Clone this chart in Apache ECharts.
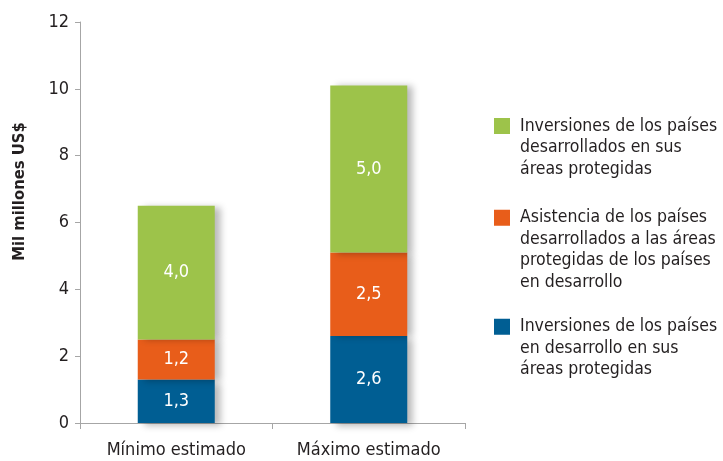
<!DOCTYPE html>
<html>
<head>
<meta charset="utf-8">
<script src="https://cdn.jsdelivr.net/npm/echarts@6/dist/echarts.min.js"></script>
<style>
html,body{margin:0;padding:0;background:#fff;}
#chart{width:723px;height:461px;}
</style>
</head>
<body>
<div id="chart"></div>
<script>
const categories = ['Mínimo estimado', 'Máximo estimado'];
const seriesNames = [
  'Inversiones de los países en desarrollo en sus áreas protegidas',
  'Asistencia de los países desarrollados a las áreas protegidas de los países en desarrollo',
  'Inversiones de los países desarrollados en sus áreas protegidas'
];
const legendLines = [
  ['Inversiones de los países', 'en desarrollo en sus', 'áreas protegidas'],
  ['Asistencia de los países', 'desarrollados a las áreas', 'protegidas de los países', 'en desarrollo'],
  ['Inversiones de los países', 'desarrollados en sus', 'áreas protegidas']
];
const valuesDevelopingOwn = [1.3, 2.6];
const valuesAssistance = [1.2, 2.5];
const valuesDevelopedOwn = [4.0, 5.0];
const yTicks = [0, 2, 4, 6, 8, 10, 12];
const colors = ['#005e93', '#e85d1a', '#9dc34a'];

const FONT = "'DejaVu Sans Condensed', 'Liberation Sans Narrow', sans-serif";
const LH = 21.5;

function fmt(v){ return v.toFixed(1).replace('.', ','); }

const dataSets = [valuesDevelopingOwn, valuesAssistance, valuesDevelopedOwn];
const series = dataSets.map((d, i) => ({
  name: seriesNames[i],
  type: 'bar',
  stack: 'total',
  barWidth: 77,
  data: d,
  itemStyle: {
    color: colors[i],
    shadowColor: 'rgba(0,0,0,0.28)',
    shadowBlur: 7,
    shadowOffsetX: 6,
    shadowOffsetY: i === 0 ? 3 : 1
  },
  label: {
    show: true,
    position: 'inside',
    color: '#ffffff',
    fontFamily: FONT,
    fontSize: 18,
    formatter: p => fmt(p.value)
  }
}));

// legend: one component per item so the swatch sits beside the first line
const legendTops = [316, 207, 115.25];
const legends = seriesNames.map((n, i) => {
  const nLines = legendLines[i].length;
  const H = nLines * LH;
  const sqTop = (LH - 16) / 2;
  const icon = 'path://M0,0L0.01,0Z M0,' + sqTop + 'H16V' + (sqTop + 16) + 'H0Z M21,' + H + 'L20.99,' + H + 'Z';
  return {
    data: [{ name: n, icon: icon }],
    left: 494,
    top: legendTops[i],
    orient: 'vertical',
    padding: 0,
    itemWidth: 21,
    itemHeight: H,
    selectedMode: false,
    formatter: () => legendLines[i].join('\n'),
    textStyle: { fontFamily: FONT, fontSize: 17.5, lineHeight: LH, color: '#231f20' }
  };
});

const chart = echarts.init(document.getElementById('chart'), null, { renderer: 'canvas' });
chart.setOption({
  animation: false,
  backgroundColor: '#ffffff',
  grid: { left: 80, right: 258, top: 22, bottom: 38, containLabel: false },
  legend: legends,
  xAxis: {
    type: 'category',
    data: categories,
    axisLine: { lineStyle: { color: '#a6a6a6', width: 1 } },
    axisTick: { show: true, length: 6, lineStyle: { color: '#a6a6a6' } },
    axisLabel: { fontFamily: FONT, fontSize: 18, color: '#231f20', margin: 18 }
  },
  yAxis: {
    type: 'value',
    min: yTicks[0],
    max: yTicks[yTicks.length - 1],
    interval: 2,
    name: 'Mil millones US$',
    nameLocation: 'middle',
    nameRotate: 90,
    nameGap: 52,
    nameTextStyle: { fontFamily: FONT, fontSize: 16.5, fontWeight: 'bold', color: '#231f20', padding: [0, 0, 0, 62] },
    axisLine: { show: true, lineStyle: { color: '#a6a6a6', width: 1 } },
    axisTick: { show: true, length: 5, lineStyle: { color: '#a6a6a6' } },
    splitLine: { show: false },
    axisLabel: { fontFamily: FONT, fontSize: 18, color: '#231f20', margin: 11 }
  },
  series: series
});
</script>
</body>
</html>
